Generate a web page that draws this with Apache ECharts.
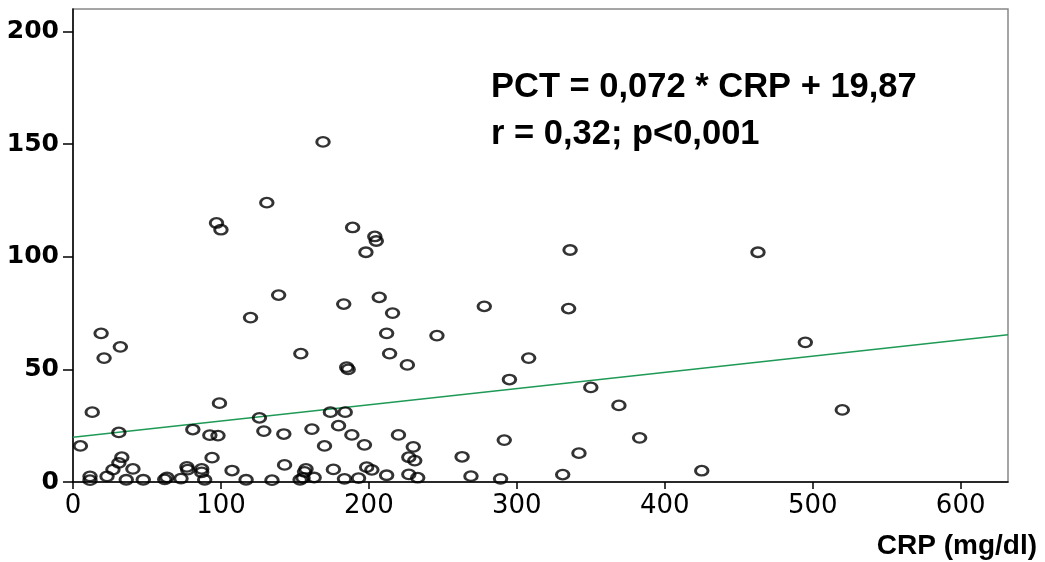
<!DOCTYPE html>
<html>
<head>
<meta charset="utf-8">
<script src="https://cdn.jsdelivr.net/npm/echarts@6/dist/echarts.min.js"></script>
<style>html,body{margin:0;padding:0;background:#fff}#c{width:1045px;height:562px}</style>
</head>
<body>
<div id="c"></div>
<script>
// CRP (mg/dl) values
const crp = [169,131,97,100,189,204,205,198,336,463,139,207,183,278,216,120,335,19,212,246,32,21,154,214,308,185,186,226,495,295,350,369,99,13,174,184,520,383,425,5,31,33,31,27,23,11.5,11.5,40.5,36,47.5,62,63.5,73,77,77.5,81,87,87,89,92.5,98,94,107.5,117,126,129,134.5,142.5,143,153.5,155.5,157.5,156.5,163,161.5,170,179.5,176,183.5,188.5,197,193,198.5,202,212,220,230,227,231,227,233,263,291.5,342,331,269,289];
// PCT values
const pct = [151,124,115,112,113,109,107,102,103,102,83,82,79,78,75,73,77,66,66,65,60,55,57,57,55,51,50,52,62,45.5,42,34,35,31,31,31,32,19.6,5,16,22,11,8.5,5.5,2.5,2.5,0.8,5.8,1,1,1.2,2,1.5,6.7,5.5,23.3,5.8,4.3,1,20.8,20.6,10.8,5.1,1,28.5,22.6,0.8,21.3,7.6,1,1.8,5.8,4.5,2,23.5,16,25,5.6,1.4,20.9,16.5,1.7,6.6,5.4,3,20.9,15.6,11,9.5,3.4,1.9,11.2,18.6,12.8,3.3,2.6,1.4];
const xTicks = [0,100,200,300,400,500,600];
const yTicks = [0,50,100,150,200];
const xMax = 632, yMax = 210;
// regression: PCT = 0,072 * CRP + 19,87
const slope = 0.072, intercept = 19.87;
const eqText = 'PCT = 0,072 * CRP + 19,87';
const statText = 'r = 0,32; p<0,001';
const xName = 'CRP (mg/dl)';

const points = crp.map((v,i)=>[v,pct[i]]);
const fitLine = [[0, intercept],[xMax, slope*xMax+intercept]];

const chart = echarts.init(document.getElementById('c'), null, {renderer:'canvas'});
chart.setOption({
  animation:false,
  backgroundColor:'#fff',
  grid:{left:73,right:37,top:9,bottom:80,show:true,borderColor:'#888',borderWidth:1.5,backgroundColor:'transparent'},
  xAxis:{
    type:'value',min:0,max:xMax,
    name:xName,nameLocation:'end',nameGap:29,
    nameTextStyle:{fontFamily:'Liberation Sans',fontWeight:'bold',fontSize:28,color:'#000',align:'right',verticalAlign:'top',padding:[50,0,0,0]},
    axisLine:{show:true,onZero:false,lineStyle:{color:'#000',width:1.5}},
    axisTick:{show:true,length:7,lineStyle:{color:'#000',width:1.5},customValues:xTicks},
    axisLabel:{customValues:xTicks,fontFamily:'DejaVu Sans',fontSize:26,color:'#000',margin:11},
    splitLine:{show:false}
  },
  yAxis:{
    type:'value',min:0,max:yMax,
    axisLine:{show:true,onZero:false,lineStyle:{color:'#000',width:1.5}},
    axisTick:{show:true,length:10,lineStyle:{color:'#000',width:1.5},customValues:yTicks},
    axisLabel:{customValues:yTicks,fontFamily:'DejaVu Sans',fontWeight:'bold',fontSize:25,color:'#000',margin:14},
    splitLine:{show:false}
  },
  graphic:[
    {type:'text',left:491,top:70,style:{text:eqText,font:'bold 34.5px "Liberation Sans"',fill:'#000'}},
    {type:'text',left:491,top:117,style:{text:statText,font:'bold 34.5px "Liberation Sans"',fill:'#000'}}
  ],
  series:[
    {type:'line',data:fitLine,symbol:'none',lineStyle:{color:'#1e9a56',width:1.5},z:2,silent:true},
    {type:'scatter',data:points,symbol:'circle',symbolSize:[12.5,9.5],
     itemStyle:{color:'rgba(0,0,0,0)',borderColor:'#000',borderWidth:2.6},z:3}
  ]
});
</script>
</body>
</html>
